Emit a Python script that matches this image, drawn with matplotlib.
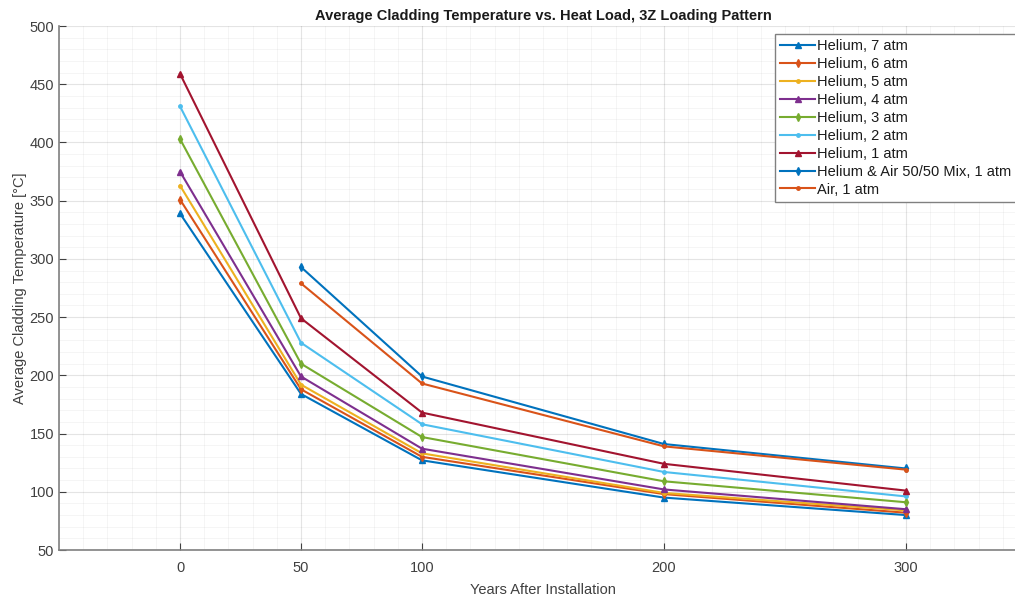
import matplotlib
matplotlib.use("Agg")
import matplotlib.pyplot as plt
from matplotlib.ticker import MultipleLocator
import numpy as np

plt.rcParams['font.family'] = ['Liberation Sans', 'DejaVu Sans']

years = [0, 50, 100, 200, 300]
years_late = [50, 100, 200, 300]

he7 = [339, 184, 127, 95, 80]
he6 = [351, 188, 130, 98, 82]
he5 = [363, 192, 133, 99, 84]
he4 = [375, 199, 137, 102, 85]
he3 = [403, 210, 147, 109, 91]
he2 = [431, 228, 158, 117, 96]
he1 = [459, 249, 168, 124, 101]
mix = [293, 199, 141, 120]
air = [279, 193, 139, 119]

labels = ["Helium, 7 atm", "Helium, 6 atm", "Helium, 5 atm", "Helium, 4 atm",
          "Helium, 3 atm", "Helium, 2 atm", "Helium, 1 atm",
          "Helium & Air 50/50 Mix, 1 atm", "Air, 1 atm"]

colors = ['#0072BD', '#D95319', '#EDB120', '#7E2F8E', '#77AC30',
          '#4DBEEE', '#A2142F', '#0072BD', '#D95319']
markers = ['^', 'd', '.', '^', 'd', '.', '^', 'd', '.']
msizes = [5, 4, 5, 5, 4, 5, 5, 4, 5]

series = [(years, he7), (years, he6), (years, he5), (years, he4), (years, he3),
          (years, he2), (years, he1), (years_late, mix), (years_late, air)]

fig = plt.figure(figsize=(10.15, 5.99), dpi=100)
ax = fig.add_axes([59/1015, 1-550/599, (1027-59)/1015, (550-26)/599])

for (xs, ys), lab, c, m, ms in zip(series, labels, colors, markers, msizes):
    ax.plot(xs, ys, color=c, marker=m, markersize=ms, linewidth=1.5, label=lab)

ax.set_xlim(-50, 350)
ax.set_ylim(50, 500)
ax.set_xticks(years)
ax.set_yticks(np.arange(50, 501, 50))
ax.xaxis.set_minor_locator(MultipleLocator(10))
ax.yaxis.set_minor_locator(MultipleLocator(10))
ax.grid(True, which='major', color='#262626', alpha=0.12, linewidth=0.8)
ax.grid(True, which='minor', color='#262626', alpha=0.05, linewidth=0.6)
ax.tick_params(which='major', direction='in', length=5, colors='#404040',
               labelsize=10.5, labelcolor='#404040')
ax.tick_params(which='minor', length=0)
ax.tick_params(axis='x', pad=8)
for s in ['top', 'right']:
    ax.spines[s].set_visible(False)
for s in ['left', 'bottom']:
    ax.spines[s].set_color('#808080')
    ax.spines[s].set_linewidth(1.2)

ax.set_title("Average Cladding Temperature vs. Heat Load, 3Z Loading Pattern",
             fontsize=10.5, fontweight='bold', color='#1a1a1a', pad=4)
ax.set_xlabel("Years After Installation", fontsize=10.5, color='#404040', labelpad=6)
ax.set_ylabel("Average Cladding Temperature [°C]", fontsize=10.5, color='#404040', labelpad=2)

leg = ax.legend(loc='upper left', bbox_to_anchor=(775/1015, 1-34/599),
                bbox_transform=fig.transFigure, fontsize=10.5, frameon=True,
                fancybox=False, edgecolor='#808080', framealpha=1,
                handlelength=2.4, handletextpad=0.15, labelspacing=0.27,
                borderpad=0.35, borderaxespad=0)
for t in leg.get_texts():
    t.set_color('#1a1a1a')

fig.savefig("out.png", dpi=100)
